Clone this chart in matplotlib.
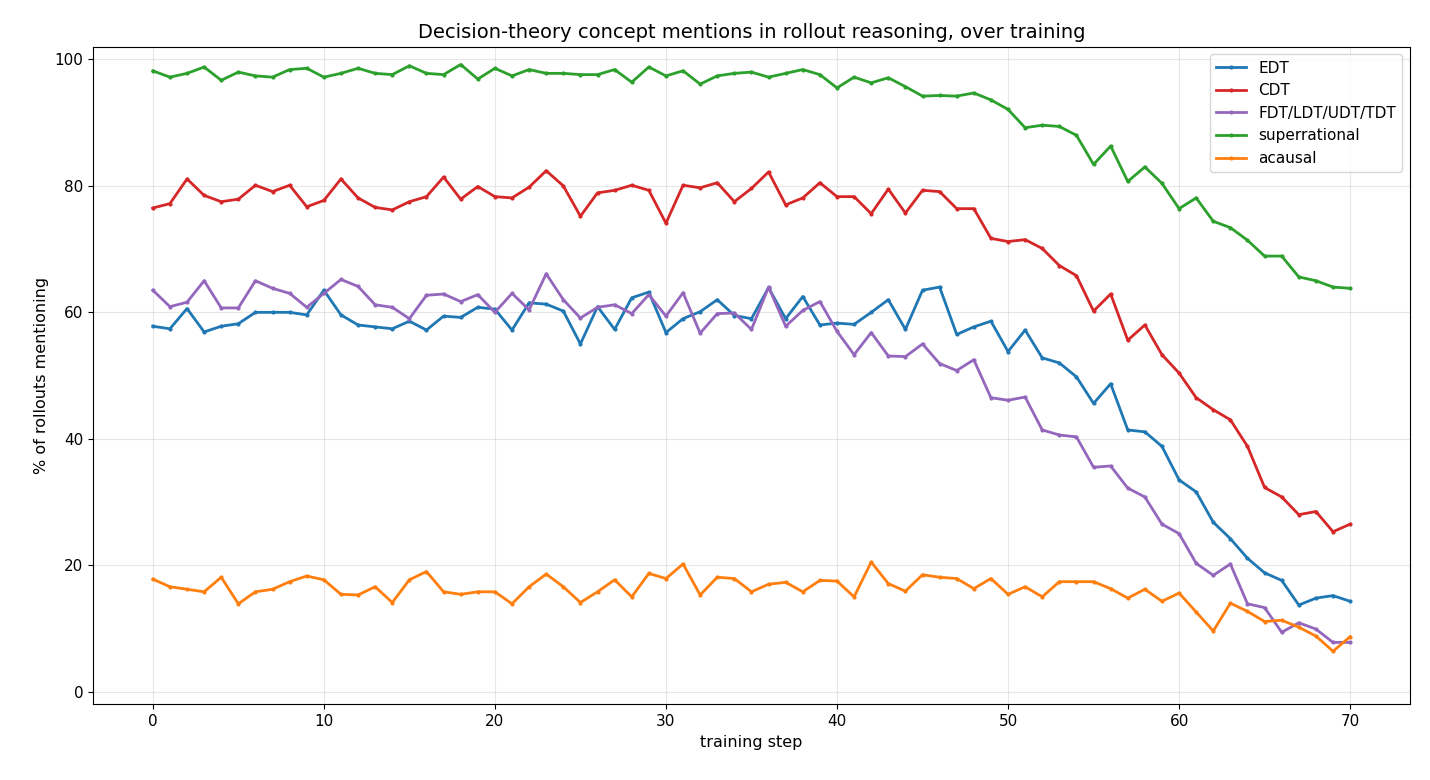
import numpy as np
import matplotlib
matplotlib.use("Agg")
import matplotlib.pyplot as plt

steps = np.arange(71)

edt = [57.8, 57.4, 60.6, 56.9, 57.8, 58.2, 60.0, 60.0, 60.0, 59.6, 63.5, 59.6, 58.0, 57.7, 57.4, 58.6, 57.2, 59.4, 59.2, 60.8,
       60.5, 57.2, 61.5, 61.3, 60.2, 55.0, 60.9, 57.3, 62.3, 63.2, 56.8, 59.0, 60.1, 62.0, 59.5, 59.0, 63.9, 59.0, 62.5, 58.0,
       58.3, 58.1, 60.0, 62.0, 57.3, 63.5, 64.0, 56.5, 57.7, 58.6, 53.8, 57.2, 52.8, 52.0, 49.8, 45.6, 48.7, 41.4, 41.1, 38.8,
       33.5, 31.6, 26.8, 24.2, 21.1, 18.8, 17.6, 13.7, 14.8, 15.2, 14.3]
cdt = [76.5, 77.2, 81.1, 78.5, 77.5, 77.9, 80.1, 79.1, 80.1, 76.7, 77.7, 81.1, 78.1, 76.6, 76.2, 77.5, 78.3, 81.4, 77.9, 79.9,
       78.3, 78.1, 79.8, 82.4, 80.0, 75.2, 78.9, 79.3, 80.1, 79.3, 74.1, 80.1, 79.7, 80.5, 77.5, 79.6, 82.2, 77.0, 78.1, 80.5,
       78.3, 78.3, 75.6, 79.5, 75.7, 79.3, 79.1, 76.4, 76.4, 71.7, 71.2, 71.5, 70.1, 67.4, 65.8, 60.2, 62.9, 55.6, 58.0, 53.3,
       50.4, 46.5, 44.6, 43.0, 38.8, 32.3, 30.8, 28.0, 28.5, 25.3, 26.5]
fdt = [63.5, 60.9, 61.6, 65.0, 60.7, 60.7, 65.0, 63.8, 63.0, 60.8, 63.0, 65.2, 64.1, 61.2, 60.8, 59.0, 62.7, 62.9, 61.7, 62.8,
       60.0, 63.0, 60.4, 66.1, 62.0, 59.1, 60.8, 61.2, 59.8, 62.8, 59.4, 63.1, 56.7, 59.8, 59.9, 57.3, 64.0, 57.8, 60.3, 61.7,
       57.0, 53.3, 56.8, 53.1, 53.0, 55.0, 51.9, 50.8, 52.5, 46.5, 46.1, 46.6, 41.4, 40.6, 40.3, 35.5, 35.7, 32.2, 30.8, 26.5,
       25.0, 20.3, 18.4, 20.2, 13.9, 13.3, 9.4, 10.9, 9.9, 7.8, 7.8]
superrational = [98.2, 97.2, 97.8, 98.8, 96.7, 98.0, 97.4, 97.2, 98.4, 98.6, 97.2, 97.8, 98.6, 97.8, 97.6, 99.0, 97.8, 97.6, 99.2, 96.9,
                 98.6, 97.4, 98.4, 97.8, 97.8, 97.6, 97.6, 98.4, 96.4, 98.8, 97.4, 98.2, 96.1, 97.4, 97.8, 98.0, 97.2, 97.8, 98.4, 97.6,
                 95.5, 97.2, 96.3, 97.1, 95.7, 94.2, 94.3, 94.2, 94.7, 93.6, 92.1, 89.2, 89.6, 89.4, 88.0, 83.4, 86.3, 80.7, 83.0, 80.4,
                 76.4, 78.1, 74.4, 73.4, 71.4, 68.9, 68.9, 65.6, 65.0, 64.0, 63.8]
acausal = [17.8, 16.6, 16.2, 15.8, 18.1, 13.9, 15.8, 16.2, 17.4, 18.3, 17.7, 15.4, 15.3, 16.6, 14.1, 17.7, 19.0, 15.8, 15.4, 15.8,
           15.8, 13.9, 16.6, 18.6, 16.6, 14.1, 15.8, 17.7, 15.0, 18.7, 17.9, 20.2, 15.3, 18.1, 17.9, 15.8, 17.0, 17.3, 15.8, 17.6,
           17.5, 15.0, 20.5, 17.1, 15.9, 18.5, 18.1, 17.9, 16.3, 17.9, 15.4, 16.6, 15.0, 17.4, 17.4, 17.4, 16.3, 14.8, 16.2, 14.3,
           15.6, 12.6, 9.6, 14.0, 12.7, 11.1, 11.3, 10.2, 8.8, 6.4, 8.7]

series = [
    ("EDT", edt, "#1f77b4"),
    ("CDT", cdt, "#d62728"),
    ("FDT/LDT/UDT/TDT", fdt, "#9467bd"),
    ("superrational", superrational, "#2ca02c"),
    ("acausal", acausal, "#ff7f0e"),
]

fig, ax = plt.subplots(figsize=(14.3, 7.8), dpi=100)
for name, vals, color in series:
    ax.plot(steps, vals, marker="o", markersize=2, linewidth=2, color=color, label=name)

ax.set_title("Decision-theory concept mentions in rollout reasoning, over training", fontsize=14)
ax.set_xlabel("training step", fontsize=11.5)
ax.set_ylabel("% of rollouts mentioning", fontsize=11.5)
ax.tick_params(labelsize=11)
ax.set_ylim(-2, 102)
ax.grid(True, alpha=0.3)
ax.legend(loc="upper right", fontsize=11)
fig.subplots_adjust(left=0.065, right=0.986, top=0.94, bottom=0.097)
fig.savefig("out.png")
